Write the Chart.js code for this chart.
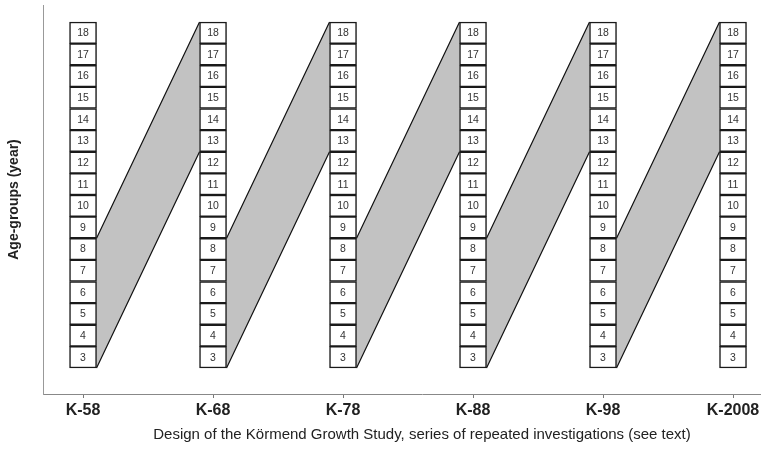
<!DOCTYPE html>
<html>
<head>
<meta charset="utf-8">
<script src="https://cdn.jsdelivr.net/npm/chart.js@4/dist/chart.umd.min.js"></script>
<style>
  html, body { margin: 0; padding: 0; background: #fff; overflow: hidden; }
  #wrap { width: 761px; height: 449px; overflow: hidden; position: relative; }
  canvas { display: block; }
</style>
</head>
<body>
<div id="wrap"><canvas id="c" width="801" height="449"></canvas></div>
<script>
// ---- data ----
const surveyLabels = ['K-58', 'K-68', 'K-78', 'K-88', 'K-98', 'K-2008'];
const surveyIndex = [0, 1, 2, 3, 4, 5];
const ageGroups = [3, 4, 5, 6, 7, 8, 9, 10, 11, 12, 13, 14, 15, 16, 17, 18];
// cohort aged 3-8 at one survey is aged 13-18 at the next survey
const cohortFrom = [3, 8];
const cohortTo = [13, 18];
const bandStarts = [0, 1, 2, 3, 4];
const xTitle = 'Design of the Körmend Growth Study, series of repeated investigations (see text)';
const yTitle = 'Age-groups (year)';

const FONT = '"Liberation Sans", Arial, Helvetica, sans-serif';

const boxData = surveyIndex.flatMap(s => ageGroups.map(a => ({ x: s, y: [a - 0.5, a + 0.5], age: a })));

const bandPlugin = {
  id: 'cohortBands',
  beforeDatasetsDraw(chart) {
    const meta = chart.getDatasetMeta(0);
    if (!meta.data.length) return;
    const halfW = meta.data[0].width / 2;
    const xs = chart.scales.x, ys = chart.scales.y;
    const ctx = chart.ctx;
    ctx.save();
    bandStarts.forEach(s => {
      const xL = xs.getPixelForValue(s) + halfW;
      const xR = xs.getPixelForValue(s + 1) - halfW;
      const yL0 = ys.getPixelForValue(cohortFrom[0] - 0.5);
      const yL1 = ys.getPixelForValue(cohortFrom[1] + 0.5);
      const yR0 = ys.getPixelForValue(cohortTo[0] - 0.5);
      const yR1 = ys.getPixelForValue(cohortTo[1] + 0.5);
      ctx.beginPath();
      ctx.moveTo(xL, yL0);
      ctx.lineTo(xL, yL1);
      ctx.lineTo(xR, yR1);
      ctx.lineTo(xR, yR0);
      ctx.closePath();
      ctx.fillStyle = '#c2c2c2';
      ctx.fill();
      ctx.strokeStyle = '#111';
      ctx.lineWidth = 1.2;
      ctx.beginPath();
      ctx.moveTo(xL, yL1); ctx.lineTo(xR, yR1);
      ctx.moveTo(xL, yL0); ctx.lineTo(xR, yR0);
      ctx.stroke();
    });
    ctx.restore();
  }
};

const labelPlugin = {
  id: 'boxLabels',
  afterDatasetsDraw(chart) {
    const meta = chart.getDatasetMeta(0);
    const ds = chart.data.datasets[0];
    const ctx = chart.ctx;
    ctx.save();
    ctx.font = '10.5px ' + FONT;
    ctx.fillStyle = '#333';
    ctx.textAlign = 'center';
    ctx.textBaseline = 'middle';
    meta.data.forEach((bar, i) => {
      const p = bar.getProps(['x', 'y', 'base'], true);
      ctx.fillText(String(ds.data[i].age), p.x, (p.y + p.base) / 2 + 0.5);
    });
    ctx.restore();
  }
};

new Chart(document.getElementById('c'), {
  type: 'bar',
  data: {
    datasets: [{
      data: boxData,
      backgroundColor: '#ffffff',
      borderColor: '#1a1a1a',
      borderWidth: 1.5,
      borderSkipped: false,
      barThickness: 27
    }]
  },
  plugins: [bandPlugin, labelPlugin],
  options: {
    responsive: false,
    animation: false,
    devicePixelRatio: 1,
    layout: { padding: { top: 5, right: 0, bottom: 0, left: 0 } },
    plugins: { legend: { display: false }, tooltip: { enabled: false } },
    scales: {
      x: {
        type: 'linear',
        min: -0.308,
        max: 5.523,
        offset: false,
        afterBuildTicks(scale) { scale.ticks = surveyIndex.map(v => ({ value: v })); },
        afterFit(scale) { scale.height = 55; },
        ticks: {
          callback: (v) => surveyLabels[v],
          font: { family: FONT, size: 16, weight: 'bold' },
          color: '#222',
          padding: 3,
          maxRotation: 0,
          autoSkip: false
        },
        grid: { display: true, offset: false, drawOnChartArea: false, drawTicks: true, tickLength: 4, color: '#777' },
        border: { display: true, color: '#888', width: 1 },
        title: {
          display: true,
          text: xTitle,
          font: { family: FONT, size: 15 },
          color: '#222',
          padding: { top: 5, bottom: 5 }
        }
      },
      y: {
        type: 'linear',
        min: 1.296,
        max: 19.287,
        afterFit(scale) { scale.width = 43; },
        ticks: { display: false },
        grid: { display: false },
        border: { display: true, color: '#999', width: 1 },
        title: {
          display: true,
          text: yTitle,
          font: { family: FONT, size: 14, weight: 'bold' },
          color: '#222',
          padding: { top: 6, bottom: 6 }
        }
      }
    }
  }
});
</script>
</body>
</html>
